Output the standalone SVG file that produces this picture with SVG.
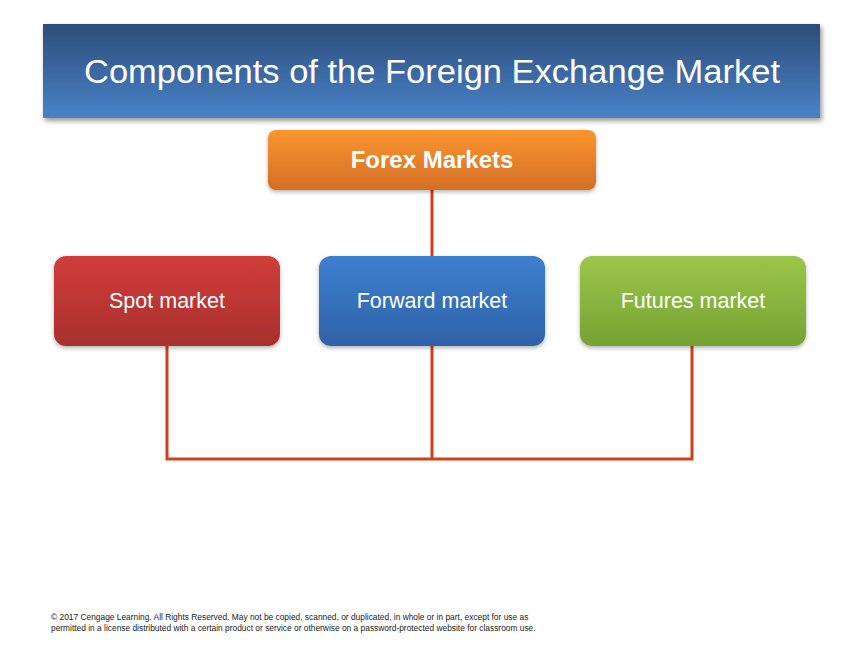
<svg xmlns="http://www.w3.org/2000/svg" width="864" height="648" viewBox="0 0 864 648">
<defs>
<linearGradient id="gTitle" x1="0" y1="0" x2="0" y2="1"><stop offset="0" stop-color="#2c4d79"/><stop offset="1" stop-color="#4a82c8"/></linearGradient>
<linearGradient id="gOrange" x1="0" y1="0" x2="0" y2="1"><stop offset="0" stop-color="#fb9530"/><stop offset="1" stop-color="#d36f26"/></linearGradient>
<linearGradient id="gRed" x1="0" y1="0" x2="0" y2="1"><stop offset="0" stop-color="#d13d3a"/><stop offset="1" stop-color="#a8302d"/></linearGradient>
<linearGradient id="gBlue" x1="0" y1="0" x2="0" y2="1"><stop offset="0" stop-color="#3d7fcf"/><stop offset="1" stop-color="#2f62a8"/></linearGradient>
<linearGradient id="gGreen" x1="0" y1="0" x2="0" y2="1"><stop offset="0" stop-color="#9cc64a"/><stop offset="1" stop-color="#76a233"/></linearGradient>
<filter id="sh" x="-10%" y="-10%" width="125%" height="140%"><feDropShadow dx="2" dy="3" stdDeviation="2.5" flood-color="#000" flood-opacity="0.4"/></filter>
<filter id="sh2" x="-10%" y="-10%" width="125%" height="140%"><feDropShadow dx="0" dy="2" stdDeviation="2" flood-color="#000" flood-opacity="0.3"/></filter>
</defs>
<style>
.lbl{font-family:"Liberation Sans",Arial,sans-serif;fill:#fff;text-anchor:middle}
.conn{fill:none;stroke:#d2401a;stroke-width:3}
.foot{font-family:"Liberation Sans",Arial,sans-serif;font-size:8.4px;fill:#222}
</style>
<rect width="864" height="648" fill="#fff"/>
<g id="title">
<rect x="43" y="24" width="777" height="94" fill="url(#gTitle)" filter="url(#sh)"/>
<text class="lbl" x="432" y="83" font-size="34" textLength="696" lengthAdjust="spacingAndGlyphs">Components of the Foreign Exchange Market</text>
</g>
<g id="connectors">
<path class="conn" d="M432 190 V258"/>
<path class="conn" d="M167 346 V459 H692 V346"/>
<path class="conn" d="M432 346 V459"/>
</g>
<g id="forex">
<rect x="268" y="130" width="328" height="60" rx="8" fill="url(#gOrange)" filter="url(#sh2)"/>
<text class="lbl" x="432" y="168" font-size="24" font-weight="bold">Forex Markets</text>
</g>
<g id="spot">
<rect x="54" y="256" width="226" height="90" rx="12" fill="url(#gRed)" filter="url(#sh2)"/>
<text class="lbl" x="167" y="308" font-size="21.5">Spot market</text>
</g>
<g id="forward">
<rect x="319" y="256" width="226" height="90" rx="12" fill="url(#gBlue)" filter="url(#sh2)"/>
<text class="lbl" x="432" y="308" font-size="21.5">Forward market</text>
</g>
<g id="futures">
<rect x="580" y="256" width="226" height="90" rx="12" fill="url(#gGreen)" filter="url(#sh2)"/>
<text class="lbl" x="693" y="308" font-size="21.5">Futures market</text>
</g>
<g id="footer">
<text class="foot" x="51" y="620">© 2017 Cengage Learning. All Rights Reserved. May not be copied, scanned, or duplicated, in whole or in part, except for use as</text>
<text class="foot" x="51" y="631">permitted in a license distributed with a certain product or service or otherwise on a password-protected website for classroom use.</text>
</g>
</svg>
